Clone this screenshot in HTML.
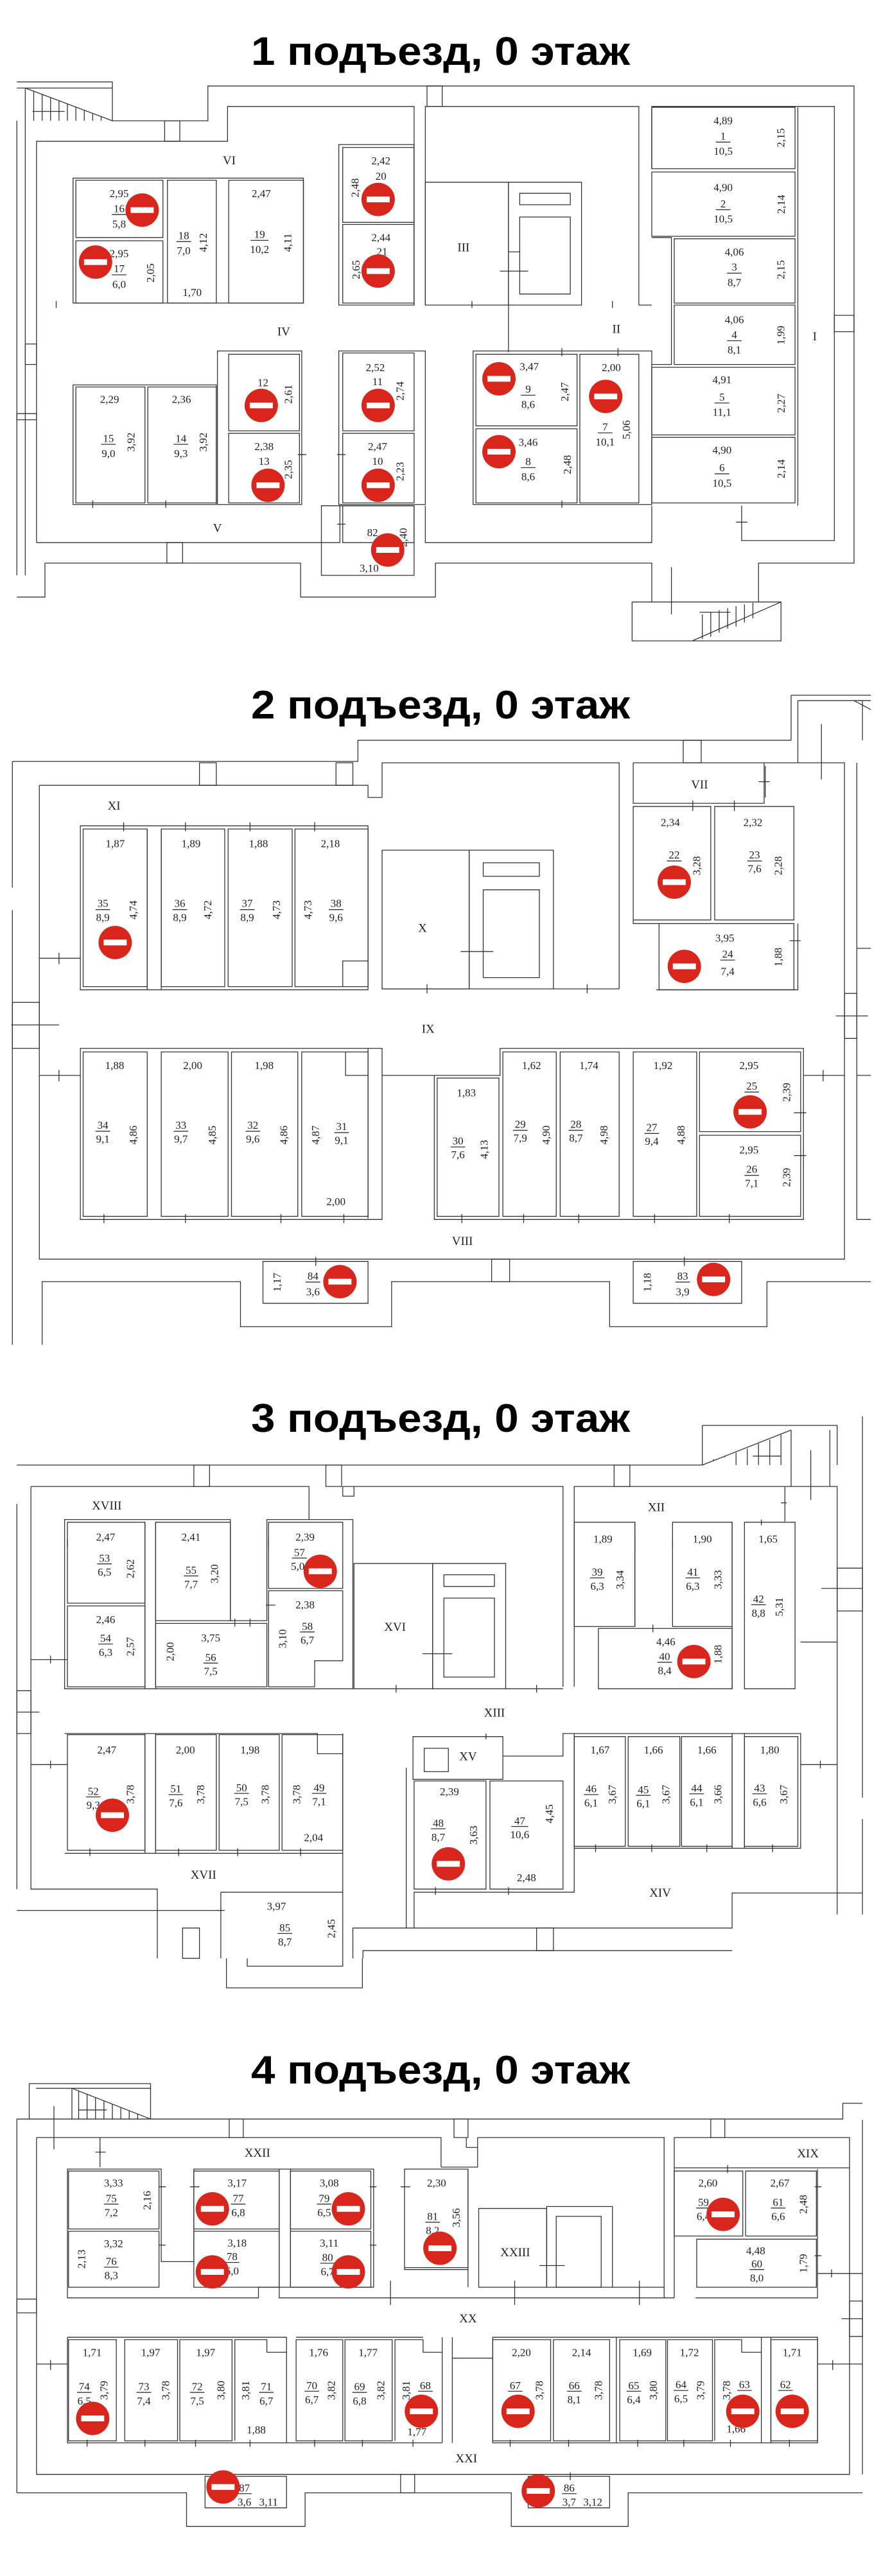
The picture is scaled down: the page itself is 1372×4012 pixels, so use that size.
<!DOCTYPE html>
<html><head><meta charset="utf-8">
<style>
html,body{margin:0;padding:0;background:#fff}
svg{display:block}
.t{font-family:"Liberation Sans",sans-serif;font-weight:bold;font-size:62px;text-anchor:middle;fill:#000}
.g text{font-family:"Liberation Serif",serif;font-size:17px;text-anchor:middle;fill:#222;transform-box:fill-box;transform-origin:center}
.g text.r{font-size:19px}
.g path,.g rect,.g line{fill:none;stroke:#333;stroke-width:1.3;vector-effect:non-scaling-stroke}
.a text{transform:scale(1.143,1.568)} .a text.v{transform:scale(1.143,1.568) rotate(-90deg)}
.b text{transform:scale(1.143,1.425)} .b text.v{transform:scale(1.143,1.425) rotate(-90deg)}
.c text{transform:scale(1.143,1.65)} .c text.v{transform:scale(1.143,1.65) rotate(-90deg)}
.d text{transform:scale(1.143,1.63)} .d text.v{transform:scale(1.143,1.63) rotate(-90deg)}
</style></head><body>
<svg width="1372" height="4012" viewBox="0 0 1372 4012" xmlns="http://www.w3.org/2000/svg">
<defs>
<g id="n1"><ellipse rx="29.7" ry="40.8" style="fill:#d8261c;stroke:none"/><rect x="-20.5" y="-7" width="41" height="14" style="fill:#fff;stroke:none"/></g>
<g id="n2"><ellipse rx="29.7" ry="37" style="fill:#d8261c;stroke:none"/><rect x="-20.5" y="-6.4" width="41" height="12.8" style="fill:#fff;stroke:none"/></g>
<g id="n3"><ellipse rx="29.7" ry="42.9" style="fill:#d8261c;stroke:none"/><rect x="-20.5" y="-7.4" width="41" height="14.9" style="fill:#fff;stroke:none"/></g>
<g id="n4"><ellipse rx="29.7" ry="42.4" style="fill:#d8261c;stroke:none"/><rect x="-20.5" y="-7.3" width="41" height="14.7" style="fill:#fff;stroke:none"/></g>
</defs>

<text class="t" x="686" y="101" textLength="590" lengthAdjust="spacingAndGlyphs">1 подъезд, 0 этаж</text>
<text class="t" x="686" y="1119" textLength="590" lengthAdjust="spacingAndGlyphs">2 подъезд, 0 этаж</text>
<text class="t" x="686" y="2230" textLength="590" lengthAdjust="spacingAndGlyphs">3 подъезд, 0 этаж</text>
<text class="t" x="686" y="3245" textLength="590" lengthAdjust="spacingAndGlyphs">4 подъезд, 0 этаж</text>

<!-- ========== SECTION 1 ========== -->
<g class="g a" transform="translate(0,0) scale(0.875,0.6378)">
<path d="M30,200 H200 V295 H370 V210 H1520 V1375 H1350 V1470"/>
<path d="M30,215 H200 M45,215 V1405 M30,295 V1405 M45,215 L200,295"/>
<path d="M60,223 V295 M75,231 V295 M90,239 V295 M105,247 V295 M120,254 V295 M135,262 V295 M150,270 V295 M165,278 V295 M180,285 V295 M58,272 H115"/>
<path d="M30,1458 H80 V1375 H535 V1458 H775 V1375 H1160 V1470"/>
<path d="M1125,1470 H1390 V1565 H1125 Z M1232,1470 L1390,1470 M1232,1565 L1390,1470 M1195,1385 V1500 M1245,1495 H1300"/>
<path d="M1250,1560 V1500 M1265,1555 V1495 M1280,1545 V1490 M1295,1535 V1485 M1310,1530 V1480 M1325,1520 V1476 M1340,1510 V1472"/>
<path d="M65,1325 V345 H405 V260 H737 V745 M757,745 V260 H1137 V745 M1160,412 V260 H1485 V1320 H1320 V1235 M65,1325 H605 V1235 M757,1235 V1325 H1160 V1235"/>
<path d="M1420,262 V1235 M1137,745 H1160 M905,745 V860 M1160,580 H1195 V890 H1160"/>
<rect x="293" y="295" width="27" height="50"/><rect x="760" y="210" width="27" height="50"/>
<rect x="1485" y="770" width="35" height="40"/><rect x="297" y="1325" width="28" height="50"/>
<rect x="45" y="840" width="20" height="50"/><rect x="30" y="1010" width="35" height="15"/>
<rect x="130" y="435" width="410" height="305"/>
<rect x="135" y="440" width="155" height="140"/><rect x="135" y="588" width="155" height="152"/>
<rect x="298" y="440" width="87" height="300"/><rect x="407" y="440" width="133" height="300"/>
<rect x="603" y="353" width="134" height="392"/>
<rect x="610" y="360" width="127" height="183"/><rect x="610" y="548" width="127" height="192"/>
<rect x="130" y="940" width="255" height="292"/>
<rect x="135" y="945" width="123" height="283"/><rect x="263" y="945" width="122" height="283"/>
<rect x="387" y="857" width="150" height="375"/>
<rect x="407" y="865" width="126" height="187"/><rect x="407" y="1058" width="126" height="170"/>
<rect x="603" y="857" width="154" height="375"/>
<rect x="610" y="862" width="127" height="190"/><rect x="610" y="1058" width="127" height="170"/>
<rect x="572" y="1235" width="165" height="170"/><rect x="610" y="1235" width="127" height="90"/>
<rect x="842" y="857" width="318" height="375"/>
<rect x="847" y="865" width="180" height="175"/><rect x="847" y="1047" width="180" height="181"/>
<rect x="1032" y="865" width="105" height="363"/>
<rect x="1160" y="262" width="255" height="150"/><rect x="1160" y="420" width="255" height="157"/>
<rect x="1200" y="583" width="215" height="157"/><rect x="1200" y="745" width="215" height="145"/>
<rect x="1160" y="897" width="255" height="165"/><rect x="1160" y="1068" width="255" height="160"/>
<rect x="757" y="445" width="148" height="300"/><rect x="905" y="445" width="130" height="300"/>
<rect x="925" y="472" width="90" height="28"/><rect x="925" y="530" width="90" height="188"/>
<path d="M890,662 H940 M905,615 H925 M100,735 V752 M840,735 V752 M1090,735 V752 M1000,850 V870 M1100,850 V870 M165,1222 V1240 M295,1222 V1240 M1000,1222 V1240 M1310,1275 H1330 M530,1110 H545 M600,1110 H615 M600,1280 H615"/>
<text class="r" x="408" y="398">VI</text><text class="r" x="505" y="816">IV</text><text class="r" x="387" y="1296">V</text>
<text class="r" x="825" y="611">III</text><text class="r" x="1097" y="810">II</text><text class="r" x="1450" y="828">I</text>
<text x="212" y="478">2,95</text><text x="212" y="515">16</text><line x1="199" y1="524" x2="225" y2="524"/><text x="212" y="553">5,8</text>
<text x="212" y="625">2,95</text><text x="212" y="662">17</text><line x1="199" y1="671" x2="225" y2="671"/><text x="212" y="700">6,0</text>
<text class="v" x="268" y="672">2,05</text>
<text x="327" y="581">18</text><line x1="314" y1="590" x2="340" y2="590"/><text x="327" y="618">7,0</text>
<text class="v" x="362" y="598">4,12</text><text x="342" y="720">1,70</text>
<text x="465" y="478">2,47</text>
<text x="462" y="578">19</text><line x1="446" y1="587" x2="478" y2="587"/><text x="462" y="615">10,2</text>
<text class="v" x="512" y="598">4,11</text>
<text x="678" y="398">2,42</text><text x="678" y="436">20</text><text class="v" x="632" y="464">2,48</text>
<text x="678" y="586">2,44</text><text x="680" y="620">21</text><text class="v" x="634" y="664">2,65</text>
<text x="468" y="940">12</text><text class="v" x="513" y="968">2,61</text>
<text x="470" y="1096">2,38</text><text x="470" y="1132">13</text><text class="v" x="513" y="1152">2,35</text>
<text x="668" y="903">2,52</text><text x="672" y="938">11</text><text class="v" x="712" y="960">2,74</text>
<text x="672" y="1096">2,47</text><text x="672" y="1132">10</text><text class="v" x="712" y="1157">2,23</text>
<text x="663" y="1306">82</text><text class="v" x="718" y="1318">2,40</text><text x="657" y="1393">3,10</text>
<text x="195" y="981">2,29</text><text x="193" y="1076">15</text><line x1="180" y1="1085" x2="206" y2="1085"/><text x="193" y="1113">9,0</text>
<text class="v" x="233" y="1085">3,92</text>
<text x="323" y="981">2,36</text><text x="322" y="1076">14</text><line x1="309" y1="1085" x2="335" y2="1085"/><text x="322" y="1113">9,3</text>
<text class="v" x="362" y="1085">3,92</text>
<text x="942" y="901">3,47</text><text x="940" y="956">9</text><line x1="927" y1="965" x2="953" y2="965"/><text x="940" y="993">8,6</text>
<text class="v" x="1005" y="962">2,47</text>
<text x="940" y="1086">3,46</text><text x="940" y="1133">8</text><line x1="927" y1="1142" x2="953" y2="1142"/><text x="940" y="1170">8,6</text>
<text class="v" x="1010" y="1140">2,48</text>
<text x="1088" y="903">2,00</text><text x="1077" y="1048">7</text><line x1="1064" y1="1057" x2="1090" y2="1057"/><text x="1077" y="1085">10,1</text>
<text class="v" x="1115" y="1055">5,06</text>
<text x="1287" y="300">4,89</text><text x="1287" y="338">1</text><line x1="1274" y1="347" x2="1300" y2="347"/><text x="1287" y="375">10,5</text><text class="v" x="1390" y="342">2,15</text>
<text x="1287" y="463">4,90</text><text x="1287" y="503">2</text><line x1="1274" y1="512" x2="1300" y2="512"/><text x="1287" y="540">10,5</text><text class="v" x="1390" y="504">2,14</text>
<text x="1307" y="621">4,06</text><text x="1307" y="658">3</text><line x1="1294" y1="667" x2="1320" y2="667"/><text x="1307" y="695">8,7</text><text class="v" x="1390" y="664">2,15</text>
<text x="1307" y="786">4,06</text><text x="1307" y="823">4</text><line x1="1294" y1="832" x2="1320" y2="832"/><text x="1307" y="860">8,1</text><text class="v" x="1390" y="824">1,99</text>
<text x="1285" y="933">4,91</text><text x="1285" y="975">5</text><line x1="1272" y1="984" x2="1298" y2="984"/><text x="1285" y="1012">11,1</text><text class="v" x="1390" y="990">2,27</text>
<text x="1285" y="1105">4,90</text><text x="1285" y="1148">6</text><line x1="1272" y1="1157" x2="1298" y2="1157"/><text x="1285" y="1185">10,5</text><text class="v" x="1390" y="1150">2,14</text>
<use href="#n1" x="253" y="513"/><use href="#n1" x="170" y="640"/><use href="#n1" x="673" y="487"/><use href="#n1" x="673" y="662"/>
<use href="#n1" x="465" y="990"/><use href="#n1" x="673" y="990"/><use href="#n1" x="477" y="1185"/><use href="#n1" x="673" y="1185"/>
<use href="#n1" x="690" y="1343"/><use href="#n1" x="888" y="925"/><use href="#n1" x="1078" y="968"/><use href="#n1" x="888" y="1103"/>
</g>

<!-- ========== SECTION 2 ========== -->
<g class="g b" transform="translate(0,1000) scale(0.875,0.7015)">
<path d="M22,265 H637 V218 H1408 M22,265 V545 M22,595 V1560"/>
<path d="M1408,118 H1550 M1408,118 V218 M1420,130 H1550 M1420,130 V268 M1520,130 L1550,150 M1462,182 V305 M1535,130 V218"/>
<path d="M70,318 H655 V345 H680 V268 H1102 V770 M1127,268 H1503 V1370 H70 V318 M1127,268 V358 H1360 V268"/>
<path d="M75,1560 V1420 H428 V1520 H697 V1420 H1085 V1520 H1365 V1420 H1550 M1525,268 V1282 H1550"/>
<rect x="355" y="268" width="30" height="50"/><rect x="598" y="268" width="30" height="50"/><rect x="1216" y="218" width="32" height="50"/>
<rect x="22" y="800" width="48" height="102"/><rect x="875" y="1370" width="32" height="50"/><rect x="1503" y="780" width="22" height="100"/>
<rect x="143" y="408" width="512" height="364"/>
<rect x="148" y="415" width="114" height="350"/><rect x="287" y="415" width="113" height="350"/>
<rect x="406" y="415" width="114" height="350"/><rect x="525" y="415" width="130" height="350"/>
<path d="M262,415 V772 M287,415 V772 M610,765 V708 H655"/>
<rect x="680" y="462" width="155" height="308"/><rect x="835" y="462" width="150" height="308"/>
<rect x="860" y="490" width="100" height="30"/><rect x="860" y="550" width="100" height="195"/>
<path d="M820,687 H878 M985,770 H1102 M680,770 H835"/>
<rect x="1127" y="365" width="138" height="252"/><rect x="1272" y="365" width="141" height="252"/>
<rect x="1173" y="625" width="240" height="147"/><path d="M1127,617 V625 H1173 M1168,772 H1420 V625"/>
<rect x="143" y="902" width="537" height="380"/>
<rect x="148" y="910" width="114" height="365"/><rect x="287" y="910" width="119" height="365"/>
<rect x="412" y="910" width="118" height="365"/><rect x="537" y="910" width="118" height="365"/>
<path d="M655,902 V1280 M615,910 V962 H655 M680,962 H890 V902 H1430 V1282 H773 V962"/>
<rect x="778" y="968" width="110" height="307"/><rect x="895" y="910" width="95" height="365"/>
<rect x="997" y="910" width="105" height="365"/><rect x="1127" y="910" width="113" height="365"/>
<rect x="1245" y="910" width="180" height="177"/><rect x="1245" y="1095" width="180" height="180"/>
<rect x="468" y="1375" width="187" height="93"/><rect x="1127" y="1375" width="193" height="93"/>
<path d="M70,702 H143 M70,962 H143 M1430,962 H1503 M1525,962 H1550 M1525,680 H1550 M20,850 H105 M1488,830 H1545 M105,690 V715 M105,950 V975 M1465,950 V975 M220,400 V420 M330,400 V420 M445,400 V420 M560,400 V420 M1233,352 V375 M1307,352 V375 M1362,275 V345 M1350,310 H1370 M760,760 V780 M1045,760 V780 M185,1270 V1290 M330,1270 V1290 M500,1270 V1290 M612,1270 V1290 M822,1270 V1290 M932,1270 V1290 M1030,1270 V1290 M1165,1270 V1290 M1298,1270 V1290 M562,1365 V1385 M1218,1365 V1385 M1405,663 H1425 M1413,1045 H1435 M1413,1140 H1435"/>
<text class="r" x="203" y="370">XI</text><text class="r" x="752" y="641">X</text><text class="r" x="1245" y="323">VII</text>
<text class="r" x="762" y="865">IX</text><text class="r" x="823" y="1336">VIII</text>
<text x="205" y="453">1,87</text><text x="183" y="586">35</text><line x1="170" y1="594" x2="196" y2="594"/><text x="183" y="617">8,9</text><text class="v" x="237" y="600">4,74</text>
<text x="340" y="453">1,89</text><text x="320" y="586">36</text><line x1="307" y1="594" x2="333" y2="594"/><text x="320" y="617">8,9</text><text class="v" x="370" y="600">4,72</text>
<text x="460" y="453">1,88</text><text x="440" y="586">37</text><line x1="427" y1="594" x2="453" y2="594"/><text x="440" y="617">8,9</text><text class="v" x="492" y="600">4,73</text>
<text x="588" y="453">2,18</text><text class="v" x="548" y="600">4,73</text><text x="598" y="586">38</text><line x1="585" y1="594" x2="611" y2="594"/><text x="598" y="617">9,6</text>
<text x="1193" y="406">2,34</text><text x="1200" y="478">22</text><line x1="1187" y1="486" x2="1213" y2="486"/><text class="v" x="1240" y="502">3,28</text>
<text x="1340" y="406">2,32</text><text x="1343" y="478">23</text><line x1="1330" y1="486" x2="1356" y2="486"/><text x="1343" y="509">7,6</text><text class="v" x="1385" y="502">2,28</text>
<text x="1290" y="663">3,95</text><text x="1295" y="698">24</text><line x1="1282" y1="706" x2="1308" y2="706"/><text x="1295" y="737">7,4</text><text class="v" x="1385" y="705">1,88</text>
<text x="204" y="946">1,88</text><text x="183" y="1078">34</text><line x1="170" y1="1086" x2="196" y2="1086"/><text x="183" y="1109">9,1</text><text class="v" x="237" y="1100">4,86</text>
<text x="343" y="946">2,00</text><text x="322" y="1078">33</text><line x1="309" y1="1086" x2="335" y2="1086"/><text x="322" y="1109">9,7</text><text class="v" x="378" y="1100">4,85</text>
<text x="470" y="946">1,98</text><text x="450" y="1078">32</text><line x1="437" y1="1086" x2="463" y2="1086"/><text x="450" y="1109">9,6</text><text class="v" x="505" y="1100">4,86</text>
<text class="v" x="562" y="1100">4,87</text><text x="608" y="1081">31</text><line x1="595" y1="1089" x2="621" y2="1089"/><text x="608" y="1112">9,1</text><text x="598" y="1248">2,00</text>
<text x="830" y="1006">1,83</text><text x="815" y="1113">30</text><line x1="802" y1="1121" x2="828" y2="1121"/><text x="815" y="1144">7,6</text><text class="v" x="862" y="1132">4,13</text>
<text x="946" y="946">1,62</text><text x="926" y="1076">29</text><line x1="913" y1="1084" x2="939" y2="1084"/><text x="926" y="1107">7,9</text><text class="v" x="972" y="1100">4,90</text>
<text x="1048" y="946">1,74</text><text x="1025" y="1076">28</text><line x1="1012" y1="1084" x2="1038" y2="1084"/><text x="1025" y="1107">8,7</text><text class="v" x="1075" y="1100">4,98</text>
<text x="1180" y="946">1,92</text><text x="1160" y="1083">27</text><line x1="1147" y1="1091" x2="1173" y2="1091"/><text x="1160" y="1114">9,4</text><text class="v" x="1212" y="1100">4,88</text>
<text x="1333" y="946">2,95</text><text x="1338" y="991">25</text><line x1="1325" y1="999" x2="1351" y2="999"/><text class="v" x="1400" y="1005">2,39</text>
<text x="1333" y="1133">2,95</text><text x="1338" y="1176">26</text><line x1="1325" y1="1184" x2="1351" y2="1184"/><text x="1338" y="1207">7,1</text><text class="v" x="1400" y="1194">2,39</text>
<text class="v" x="493" y="1427">1,17</text><text x="557" y="1413">84</text><line x1="544" y1="1421" x2="570" y2="1421"/><text x="557" y="1448">3,6</text>
<text class="v" x="1152" y="1427">1,18</text><text x="1215" y="1413">83</text><line x1="1202" y1="1421" x2="1228" y2="1421"/><text x="1215" y="1448">3,9</text>
<use href="#n2" x="205" y="667"/><use href="#n2" x="1200" y="533"/><use href="#n2" x="1218" y="720"/>
<use href="#n2" x="1335" y="1043"/><use href="#n2" x="605" y="1420"/><use href="#n2" x="1270" y="1415"/>
</g>

<!-- ========== SECTION 3 ========== -->
<g class="g c" transform="translate(0,2100) scale(0.875,0.6059)">
<path d="M30,300 H1250 M1250,198 H1490 V300 M1250,198 V300 M1250,300 L1408,210 M1270,290 V285 M1290,280 V278 M1310,268 V300 M1330,258 V300 M1350,245 V300 M1370,235 V300 M1390,222 V300 M1340,277 H1390 M1408,210 V355 M1477,210 V355 M1443,262 V390 M1535,175 V1155"/>
<path d="M55,355 H550 V440 M610,355 H1002 V870 M1022,870 V355 H1490 V1455 M55,355 V1390 H280 V1568 M30,400 V1390"/>
<path d="M610,990 V1568 M628,1568 V1490 H1303 V1400 H1535 M646,1568 V1548 H1303 M1022,1280 V1398 H737 V1490 M30,1445 H395 M1397,355 V445 M1535,1210 V1455"/>
<rect x="345" y="300" width="28" height="55"/><rect x="580" y="300" width="28" height="55"/><rect x="1093" y="300" width="28" height="55"/>
<rect x="30" y="880" width="25" height="110"/><rect x="1490" y="565" width="45" height="110"/>
<rect x="325" y="1490" width="30" height="78"/><rect x="955" y="1490" width="30" height="58"/>
<path d="M610,355 V380 H630 V355 M1390,397 H1400"/>
<rect x="120" y="447" width="138" height="208"/><rect x="120" y="662" width="138" height="208"/>
<rect x="277" y="447" width="133" height="253"/><rect x="277" y="707" width="198" height="163"/>
<path d="M115,440 H410 V700 H475 V440 H628 V875 H115 Z M258,447 V875 M277,447 V875"/>
<rect x="478" y="447" width="132" height="170"/>
<path d="M478,623 H610 V803 H560 V870 H478 Z"/>
<rect x="630" y="553" width="140" height="322"/><rect x="770" y="553" width="130" height="322"/>
<rect x="790" y="582" width="90" height="30"/><rect x="790" y="642" width="90" height="203"/>
<path d="M752,785 H805 M900,875 H1002"/>
<rect x="1022" y="447" width="108" height="268"/><rect x="1197" y="447" width="106" height="268"/>
<rect x="1325" y="447" width="90" height="428"/><rect x="1065" y="720" width="238" height="155"/>
<path d="M1130,447 V715 M1303,447 V875"/>
<rect x="120" y="993" width="138" height="297"/><rect x="277" y="993" width="108" height="297"/>
<rect x="390" y="993" width="107" height="297"/><rect x="502" y="993" width="108" height="297"/>
<path d="M115,990 H565 V1042 H610 M115,1298 H610 M258,990 V1298 M277,990 V1298"/>
<rect x="735" y="998" width="160" height="110"/><rect x="755" y="1028" width="43" height="60"/>
<rect x="737" y="1112" width="128" height="278"/><rect x="872" y="1112" width="130" height="278"/>
<path d="M895,1048 H1002 V990 H1425 V1285 H1022 V990 M723,1078 V1490"/>
<rect x="1022" y="998" width="91" height="282"/><rect x="1118" y="998" width="92" height="282"/>
<rect x="1213" y="998" width="90" height="282"/><rect x="1325" y="998" width="95" height="282"/>
<path d="M1303,990 V1285 M1325,990 V1285"/>
<path d="M393,1398 H610 M393,1398 V1568"/>
<path d="M55,800 H120 M55,1070 H120 M1425,1070 H1490 M1425,755 H1490 M30,935 H70 M1462,617 H1535 M90,790 V810 M90,1060 V1080 M1460,1060 V1080 M418,695 V715 M445,695 V715 M120,490 V510 M410,490 V510 M478,490 V510 M473,660 H490 M1130,490 V510 M1197,490 V510 M1162,710 V730 M1355,440 V455 M705,865 V885 M955,865 V885 M865,990 V1005 M160,1285 V1305 M318,1285 V1305 M423,1285 V1305 M535,1285 V1305 M775,1385 V1405 M905,1385 V1405 M1060,1275 V1295 M1160,1275 V1295 M1258,1275 V1295 M1375,1275 V1295 M385,1445 H400"/>
<text class="r" x="190" y="411">XVIII</text><text class="r" x="1168" y="415">XII</text><text class="r" x="703" y="723">XVI</text>
<text class="r" x="880" y="943">XIII</text><text class="r" x="833" y="1055">XV</text><text class="r" x="362" y="1360">XVII</text><text class="r" x="1175" y="1406">XIV</text>
<text x="188" y="491">2,47</text><text x="186" y="545">53</text><line x1="173" y1="554" x2="199" y2="554"/><text x="186" y="581">6,5</text><text class="v" x="232" y="572">2,62</text>
<text x="340" y="491">2,41</text><text x="340" y="576">55</text><line x1="327" y1="585" x2="353" y2="585"/><text x="340" y="612">7,7</text><text class="v" x="382" y="585">3,20</text>
<text x="543" y="491">2,39</text><text x="533" y="530">57</text><line x1="520" y1="539" x2="546" y2="539"/><text x="530" y="566">5,0</text>
<text x="543" y="665">2,38</text><text x="547" y="720">58</text><line x1="534" y1="729" x2="560" y2="729"/><text x="547" y="756">6,7</text><text class="v" x="503" y="752">3,10</text>
<text x="188" y="703">2,46</text><text x="188" y="751">54</text><line x1="175" y1="760" x2="201" y2="760"/><text x="188" y="787">6,3</text><text class="v" x="232" y="772">2,57</text>
<text x="375" y="750">3,75</text><text x="375" y="800">56</text><line x1="362" y1="809" x2="388" y2="809"/><text x="375" y="836">7,5</text><text class="v" x="303" y="785">2,00</text>
<text x="1073" y="496">1,89</text><text x="1063" y="581">39</text><line x1="1050" y1="590" x2="1076" y2="590"/><text x="1063" y="617">6,3</text><text class="v" x="1103" y="600">3,34</text>
<text x="1250" y="496">1,90</text><text x="1233" y="581">41</text><line x1="1220" y1="590" x2="1246" y2="590"/><text x="1233" y="617">6,3</text><text class="v" x="1278" y="600">3,33</text>
<text x="1367" y="496">1,65</text><text x="1350" y="650">42</text><line x1="1337" y1="659" x2="1363" y2="659"/><text x="1350" y="686">8,8</text><text class="v" x="1387" y="670">5,31</text>
<text x="1185" y="760">4,46</text><text x="1183" y="798">40</text><line x1="1170" y1="807" x2="1196" y2="807"/><text x="1183" y="834">8,4</text><text class="v" x="1278" y="792">1,88</text>
<text x="190" y="1038">2,47</text><text x="166" y="1144">52</text><line x1="153" y1="1153" x2="179" y2="1153"/><text x="166" y="1180">9,3</text><text class="v" x="232" y="1152">3,78</text>
<text x="330" y="1038">2,00</text><text x="313" y="1138">51</text><line x1="300" y1="1147" x2="326" y2="1147"/><text x="313" y="1174">7,6</text><text class="v" x="357" y="1152">3,78</text>
<text x="445" y="1038">1,98</text><text x="430" y="1135">50</text><line x1="417" y1="1144" x2="443" y2="1144"/><text x="430" y="1171">7,5</text><text class="v" x="472" y="1152">3,78</text>
<text class="v" x="528" y="1152">3,78</text><text x="568" y="1135">49</text><line x1="555" y1="1144" x2="581" y2="1144"/><text x="568" y="1171">7,1</text><text x="558" y="1263">2,04</text>
<text x="800" y="1145">2,39</text><text x="780" y="1226">48</text><line x1="767" y1="1235" x2="793" y2="1235"/><text x="780" y="1262">8,7</text><text class="v" x="843" y="1257">3,63</text>
<text x="925" y="1220">47</text><line x1="910" y1="1229" x2="940" y2="1229"/><text x="925" y="1256">10,6</text><text class="v" x="978" y="1202">4,45</text><text x="937" y="1366">2,48</text>
<text x="1068" y="1038">1,67</text><text x="1052" y="1138">46</text><line x1="1039" y1="1147" x2="1065" y2="1147"/><text x="1052" y="1174">6,1</text><text class="v" x="1090" y="1152">3,67</text>
<text x="1163" y="1038">1,66</text><text x="1145" y="1140">45</text><line x1="1132" y1="1149" x2="1158" y2="1149"/><text x="1145" y="1176">6,1</text><text class="v" x="1185" y="1152">3,67</text>
<text x="1258" y="1038">1,66</text><text x="1240" y="1136">44</text><line x1="1227" y1="1145" x2="1253" y2="1145"/><text x="1240" y="1172">6,1</text><text class="v" x="1278" y="1152">3,66</text>
<text x="1370" y="1038">1,80</text><text x="1352" y="1136">43</text><line x1="1339" y1="1145" x2="1365" y2="1145"/><text x="1352" y="1172">6,6</text><text class="v" x="1395" y="1152">3,67</text>
<text x="492" y="1440">3,97</text><text x="507" y="1495">85</text><line x1="494" y1="1504" x2="520" y2="1504"/><text x="507" y="1531">8,7</text><text class="v" x="590" y="1497">2,45</text>
<use href="#n3" x="570" y="573"/><use href="#n3" x="1235" y="805"/><use href="#n3" x="200" y="1200"/><use href="#n3" x="798" y="1325"/>
</g>

<!-- ========== SECTION 4 ========== -->
<g class="g d" transform="translate(0,3050) scale(0.875,0.6135)">
<path d="M403,0 V75 H645 V0 M440,0 V20 H610 V0"/>
<path d="M30,408 H1500 V368 H1535 M30,408 V1357 M52,318 H268 V408 M52,318 V408 M64,330 H268 M128,330 V408 M128,330 L268,408 M140,337 V408 M155,345 V408 M170,354 V408 M185,362 V408 M200,370 V408 M215,379 V408 M230,387 V408 M245,395 V408 M140,385 H190 M96,375 V485"/>
<path d="M65,455 H785 V530 M850,455 V480 H830 V455 M850,455 H1182 V862 M1200,862 V455 H1512 V1310 H65 V455 M1535,410 V1310 M178,455 V530 M785,530 H850 V455"/>
<path d="M30,1357 H332 V1442 H543 V1357 H910 V1442 H1118 V1357 H1535"/>
<rect x="408" y="408" width="25" height="47"/><rect x="808" y="408" width="25" height="47"/><rect x="1265" y="408" width="25" height="47"/>
<rect x="30" y="865" width="35" height="35"/><rect x="713" y="1310" width="25" height="47"/><rect x="1512" y="870" width="23" height="90"/>
<path d="M120,535 H287 V770 H345 V535 H497 V835 H460 V862 H120 Z"/>
<rect x="122" y="540" width="161" height="147"/><rect x="122" y="693" width="161" height="142"/>
<rect x="345" y="540" width="152" height="147"/><rect x="345" y="693" width="152" height="142"/>
<path d="M497,535 H665 V835 H497 V862 H1200 M517,535 V835"/>
<rect x="517" y="540" width="143" height="147"/><rect x="517" y="693" width="143" height="142"/>
<rect x="720" y="535" width="113" height="250"/><path d="M720,785 V790 H833 M833,535 V835"/>
<rect x="852" y="635" width="121" height="200"/><rect x="973" y="630" width="117" height="205"/><rect x="990" y="655" width="80" height="180"/>
<path d="M960,780 H1005 M1090,835 H1182"/>
<path d="M1200,532 H1512 M1238,862 H1455 V535"/>
<rect x="1200" y="540" width="122" height="165"/><rect x="1327" y="540" width="126" height="165"/>
<rect x="1240" y="713" width="213" height="122"/>
<path d="M120,962 H510 M120,962 V1230 H787 M510,962 V1230 M527,962 H753 M787,962 V1230 M805,962 V1230 M805,1015 H877 M877,962 H1455 V1230 H877 Z M1097,962 V1230 M1355,962 V1230 M1372,962 V1230"/>
<rect x="122" y="968" width="85" height="257"/><rect x="222" y="968" width="94" height="257"/>
<rect x="320" y="968" width="93" height="257"/><path d="M418,1225 V968 H475 V1000 H510"/>
<rect x="527" y="968" width="83" height="257"/><rect x="614" y="968" width="84" height="257"/>
<path d="M703,1225 V968 H753 V1000 H787"/>
<rect x="877" y="968" width="103" height="257"/><rect x="985" y="968" width="100" height="257"/>
<rect x="1103" y="968" width="82" height="257"/><rect x="1188" y="968" width="80" height="257"/>
<path d="M1272,1225 V968 H1320 V1000 H1355"/><rect x="1372" y="968" width="83" height="257"/>
<rect x="365" y="1315" width="145" height="80"/><rect x="940" y="1315" width="145" height="80"/>
<path d="M65,1030 H120 M1455,1030 H1512 M1512,1030 H1535 M1455,800 H1512 M1512,800 H1535 M1498,915 H1535 M90,1020 V1045 M1482,1020 V1045 M1480,790 V810 M178,480 V500 M170,492 H188 M283,580 H295 M338,580 H355 M658,580 H670 M713,580 H730 M283,728 H295 M658,728 H670 M1295,525 V545 M1450,580 H1462 M1450,755 H1462 M695,818 V880 M916,818 V880 M1138,818 V880 M155,1222 V1240 M258,1222 V1240 M348,1222 V1240 M445,1222 V1240 M560,1222 V1240 M645,1222 V1240 M735,1222 V1240 M908,1222 V1240 M1012,1222 V1240 M1135,1222 V1240 M1217,1222 V1240 M1300,1222 V1240 M1405,1222 V1240 M405,1305 V1325 M1015,1305 V1325"/>
<text class="r" x="458" y="500">XXII</text><text class="r" x="1438" y="502">XIX</text><text class="r" x="917" y="753">XXIII</text>
<text class="r" x="833" y="921">XX</text><text class="r" x="830" y="1276">XXI</text>
<text x="202" y="576">3,33</text><text x="198" y="615">75</text><line x1="185" y1="624" x2="211" y2="624"/><text x="198" y="651">7,2</text><text class="v" x="262" y="620">2,16</text>
<text x="202" y="730">3,32</text><text x="198" y="775">76</text><line x1="185" y1="784" x2="211" y2="784"/><text x="198" y="811">8,3</text><text class="v" x="145" y="769">2,13</text>
<text x="422" y="576">3,17</text><text x="424" y="615">77</text><line x1="411" y1="624" x2="437" y2="624"/><text x="424" y="651">6,8</text>
<text x="422" y="728">3,18</text><text x="413" y="763">78</text><line x1="400" y1="772" x2="426" y2="772"/><text x="413" y="799">6,0</text>
<text x="586" y="576">3,08</text><text x="577" y="615">79</text><line x1="564" y1="624" x2="590" y2="624"/><text x="577" y="651">6,5</text>
<text x="586" y="728">3,11</text><text x="583" y="765">80</text><line x1="570" y1="774" x2="596" y2="774"/><text x="583" y="801">6,7</text>
<text x="777" y="576">2,30</text><text x="770" y="661">81</text><line x1="757" y1="670" x2="783" y2="670"/><text x="770" y="697">8,2</text><text class="v" x="812" y="664">3,56</text>
<text x="1260" y="576">2,60</text><text x="1252" y="625">59</text><line x1="1239" y1="634" x2="1265" y2="634"/><text x="1252" y="661">6,4</text>
<text x="1388" y="576">2,67</text><text x="1385" y="625">61</text><line x1="1372" y1="634" x2="1398" y2="634"/><text x="1385" y="661">6,6</text><text class="v" x="1430" y="630">2,48</text>
<text x="1345" y="748">4,48</text><text x="1347" y="781">60</text><line x1="1334" y1="790" x2="1360" y2="790"/><text x="1347" y="817">8,0</text><text class="v" x="1430" y="780">1,79</text>
<text x="164" y="1006">1,71</text><text x="150" y="1093">74</text><line x1="137" y1="1102" x2="163" y2="1102"/><text x="150" y="1129">6,5</text><text class="v" x="185" y="1102">3,79</text>
<text x="268" y="1006">1,97</text><text x="256" y="1093">73</text><line x1="243" y1="1102" x2="269" y2="1102"/><text x="256" y="1129">7,4</text><text class="v" x="295" y="1102">3,78</text>
<text x="366" y="1006">1,97</text><text x="351" y="1093">72</text><line x1="338" y1="1102" x2="364" y2="1102"/><text x="351" y="1129">7,5</text><text class="v" x="393" y="1102">3,80</text>
<text class="v" x="437" y="1102">3,81</text><text x="474" y="1093">71</text><line x1="461" y1="1102" x2="487" y2="1102"/><text x="474" y="1129">6,7</text><text x="456" y="1203">1,88</text>
<text x="567" y="1006">1,76</text><text x="555" y="1090">70</text><line x1="542" y1="1099" x2="568" y2="1099"/><text x="555" y="1126">6,7</text><text class="v" x="590" y="1102">3,82</text>
<text x="655" y="1006">1,77</text><text x="640" y="1093">69</text><line x1="627" y1="1102" x2="653" y2="1102"/><text x="640" y="1129">6,8</text><text class="v" x="678" y="1102">3,82</text>
<text class="v" x="723" y="1102">3,81</text><text x="757" y="1090">68</text><line x1="744" y1="1099" x2="770" y2="1099"/><text x="742" y="1208">1,77</text>
<text x="928" y="1006">2,20</text><text x="917" y="1090">67</text><line x1="904" y1="1099" x2="930" y2="1099"/><text class="v" x="960" y="1102">3,78</text>
<text x="1035" y="1006">2,14</text><text x="1022" y="1090">66</text><line x1="1009" y1="1099" x2="1035" y2="1099"/><text x="1022" y="1126">8,1</text><text class="v" x="1065" y="1102">3,78</text>
<text x="1143" y="1006">1,69</text><text x="1128" y="1090">65</text><line x1="1115" y1="1099" x2="1141" y2="1099"/><text x="1128" y="1126">6,4</text><text class="v" x="1163" y="1102">3,80</text>
<text x="1227" y="1006">1,72</text><text x="1212" y="1088">64</text><line x1="1199" y1="1097" x2="1225" y2="1097"/><text x="1212" y="1124">6,5</text><text class="v" x="1247" y="1102">3,79</text>
<text class="v" x="1293" y="1102">3,78</text><text x="1325" y="1088">63</text><line x1="1312" y1="1097" x2="1338" y2="1097"/><text x="1310" y="1200">1,66</text>
<text x="1410" y="1006">1,71</text><text x="1398" y="1088">62</text><line x1="1385" y1="1097" x2="1411" y2="1097"/>
<text x="435" y="1350">87</text><line x1="422" y1="1359" x2="448" y2="1359"/><text x="435" y="1386">3,6</text><text x="478" y="1386">3,11</text>
<text x="1013" y="1350">86</text><line x1="1000" y1="1359" x2="1026" y2="1359"/><text x="1013" y="1386">3,7</text><text x="1055" y="1386">3,12</text>
<use href="#n4" x="378" y="636"/><use href="#n4" x="620" y="636"/><use href="#n4" x="378" y="796"/><use href="#n4" x="620" y="796"/>
<use href="#n4" x="783" y="736"/><use href="#n4" x="1287" y="650"/><use href="#n4" x="165" y="1168"/><use href="#n4" x="750" y="1150"/>
<use href="#n4" x="922" y="1150"/><use href="#n4" x="1322" y="1150"/><use href="#n4" x="1410" y="1150"/><use href="#n4" x="397" y="1342"/><use href="#n4" x="958" y="1352"/>
</g>
</svg>
</body></html>
